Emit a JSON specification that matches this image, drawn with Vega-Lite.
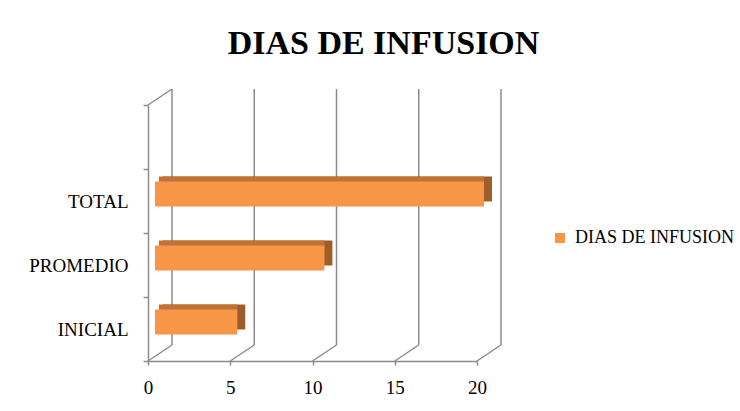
{
  "$schema": "https://vega.github.io/schema/vega-lite/v6.json",
  "width": 329,
  "height": 256,
  "autosize": {"type": "none"},
  "padding": {"left": 148, "top": 105, "right": 263, "bottom": 50},
  "background": "white",
  "config": {"view": {"stroke": null}},
  "title": {
    "text": "DIAS DE INFUSION",
    "font": "Liberation Serif",
    "fontSize": 34,
    "fontWeight": "bold",
    "color": "#000000",
    "anchor": "middle",
    "frame": "group",
    "dx": 71,
    "offset": 27
  },
  "datasets": {
    "bars": [
      {"cat": "TOTAL", "dias": 20, "serie": "DIAS DE INFUSION"},
      {"cat": "PROMEDIO", "dias": 10.3, "serie": "DIAS DE INFUSION"},
      {"cat": "INICIAL", "dias": 5, "serie": "DIAS DE INFUSION"}
    ],
    "ticks": [{"v": 0}, {"v": 5}, {"v": 10}, {"v": 15}, {"v": 20}]
  },
  "resolve": {"scale": {"y": "independent"}, "axis": {"y": "independent"}},
  "layer": [
    {
      "data": {"name": "ticks"},
      "mark": {"type": "rule", "color": "#8C8C8C", "strokeWidth": 1.5, "xOffset": 24, "yOffset": -16, "y2Offset": -16},
      "encoding": {
        "x": {"field": "v", "type": "quantitative", "scale": {"domain": [0, 20]}, "axis": {"values": [0, 5, 10, 15, 20], "grid": false, "title": null, "labelFlush": false, "domainColor": "#8C8C8C", "domainWidth": 1.5, "tickColor": "#8C8C8C", "tickWidth": 1.5, "tickSize": 4, "labelFont": "Liberation Serif", "labelFontSize": 19, "labelColor": "#000000", "labelPadding": 13}},
        "y": {"datum": 0, "type": "quantitative", "scale": {"domain": [0, 1]}, "axis": null},
        "y2": {"datum": 1}
      }
    },
    {
      "data": {"name": "ticks"},
      "mark": {"type": "rule", "color": "#8C8C8C", "strokeWidth": 1.5, "x2Offset": 24, "y2Offset": -16},
      "encoding": {
        "x": {"field": "v", "type": "quantitative"},
        "x2": {"field": "v"},
        "y": {"datum": 0, "type": "quantitative", "scale": {"domain": [0, 1]}, "axis": null},
        "y2": {"datum": 0}
      }
    },
    {
      "data": {"values": [{"v": 0}]},
      "mark": {"type": "rule", "color": "#8C8C8C", "strokeWidth": 1.5, "x2Offset": 24, "y2Offset": -16},
      "encoding": {
        "x": {"field": "v", "type": "quantitative"},
        "x2": {"field": "v"},
        "y": {"datum": 1, "type": "quantitative", "scale": {"domain": [0, 1]}, "axis": null},
        "y2": {"datum": 1}
      }
    },
    {
      "data": {"name": "bars"},
      "layer": [
        {
          "mark": {"type": "bar", "color": "#9E5E2A", "height": {"band": 0.39}, "xOffset": 15, "x2Offset": 15, "yOffset": -12},
          "encoding": {
            "x": {"field": "dias", "type": "quantitative"},
            "x2": {"datum": 0},
            "y": {"field": "cat", "type": "nominal", "scale": {"domain": ["", "TOTAL", "PROMEDIO", "INICIAL"], "paddingInner": 0, "paddingOuter": 0}, "axis": {"title": null, "tickBand": "extent", "domainColor": "#8C8C8C", "domainWidth": 1.5, "tickColor": "#8C8C8C", "tickWidth": 1.5, "tickSize": 5, "labelFont": "Liberation Serif", "labelFontSize": 19, "labelColor": "#000000", "labelPadding": 15, "grid": false}}
          }
        },
        {
          "mark": {"type": "bar", "color": "#C27333", "height": {"band": 0.39}, "xOffset": 7, "x2Offset": 11, "yOffset": -12},
          "encoding": {
            "x": {"field": "dias", "type": "quantitative"},
            "x2": {"datum": 0},
            "y": {"field": "cat", "type": "nominal"}
          }
        },
        {
          "mark": {"type": "bar", "height": {"band": 0.39}, "xOffset": 7, "x2Offset": 7, "yOffset": -7},
          "encoding": {
            "x": {"field": "dias", "type": "quantitative"},
            "x2": {"datum": 0},
            "y": {"field": "cat", "type": "nominal"},
            "color": {"field": "serie", "type": "nominal", "scale": {"range": ["#F79646"]}, "legend": {"title": null, "orient": "none", "legendX": 403, "legendY": 124, "symbolType": "square", "symbolSize": 100, "symbolStrokeWidth": 0, "labelFont": "Liberation Serif", "labelFontSize": 18, "labelColor": "#000000", "labelOffset": 6}}
          }
        }
      ]
    }
  ]
}
